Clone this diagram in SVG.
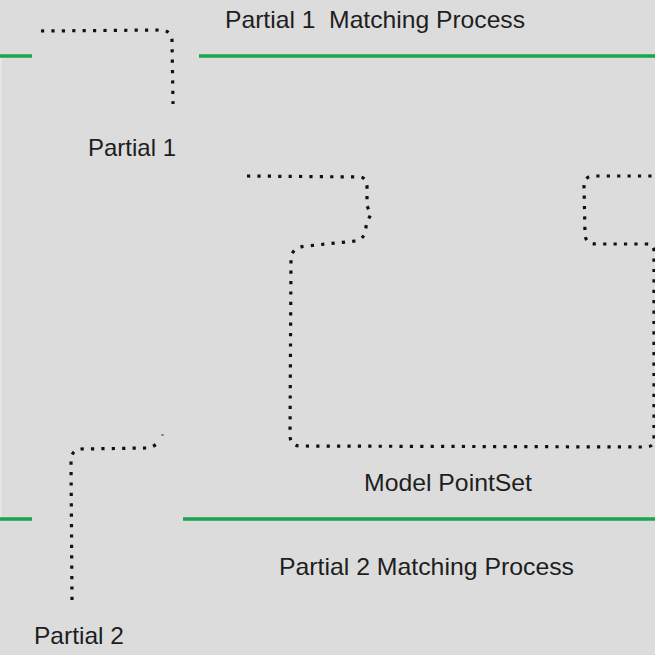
<svg xmlns="http://www.w3.org/2000/svg" width="655" height="655" viewBox="0 0 655 655">
<style>
.bg{fill:#dcdcdc}
.dots{fill:none;stroke:#111;stroke-width:3.2;stroke-dasharray:3.2 7.2;stroke-linejoin:round}
.sep{stroke:#18a550;stroke-width:3.5;fill:none}
.lbl{font-family:"Liberation Sans",Arial,sans-serif;font-size:24px;fill:#1e1e1e;white-space:pre}
</style>
<rect class="bg" x="0" y="0" width="655" height="655"/>
<rect x="0" y="57" width="1.5" height="461" fill="#e8e8ec"/>
<g id="separators">
<line class="sep" x1="0" y1="56" x2="32" y2="56"/>
<line class="sep" x1="199" y1="56" x2="655" y2="56"/>
<line class="sep" x1="0" y1="519" x2="32" y2="519"/>
<line class="sep" x1="183" y1="519" x2="655" y2="519"/>
</g>
<g id="titles">
<text class="lbl" x="225" y="28" textLength="300" lengthAdjust="spacingAndGlyphs" xml:space="preserve">Partial 1  Matching Process</text>
<text class="lbl" x="279" y="575" textLength="295" lengthAdjust="spacingAndGlyphs">Partial 2 Matching Process</text>
</g>
<g id="partial1">
<path class="dots" d="M41,31 L160,30 Q171,30 172,40 L173,104"/>
<text class="lbl" x="88" y="156" textLength="88" lengthAdjust="spacingAndGlyphs">Partial 1</text>
</g>
<g id="model">
<path class="dots" d="M247,176 L360,177 Q367,178 367,187 L367,206 L371,214 L367,222 L365,232 Q363,240 355,241 L307,246 Q293,247 291,257 L290,435 Q290,446 300,446 L645,447 Q654,447 654,440 L654,251 Q654,244 647,244 L597,244 Q585,244 585,234 L584,186 Q584,176 594,176 L655,176"/>
<text class="lbl" x="364" y="491" textLength="168" lengthAdjust="spacingAndGlyphs">Model PointSet</text>
</g>
<g id="partial2">
<path class="dots" d="M72,600 L71,461 Q71,450 81,449 L146,448 Q152,448 158,443"/>
<line x1="161" y1="435" x2="164" y2="435" stroke="#444" stroke-width="1"/>
<text class="lbl" x="34" y="644" textLength="90" lengthAdjust="spacingAndGlyphs">Partial 2</text>
</g>
</svg>
